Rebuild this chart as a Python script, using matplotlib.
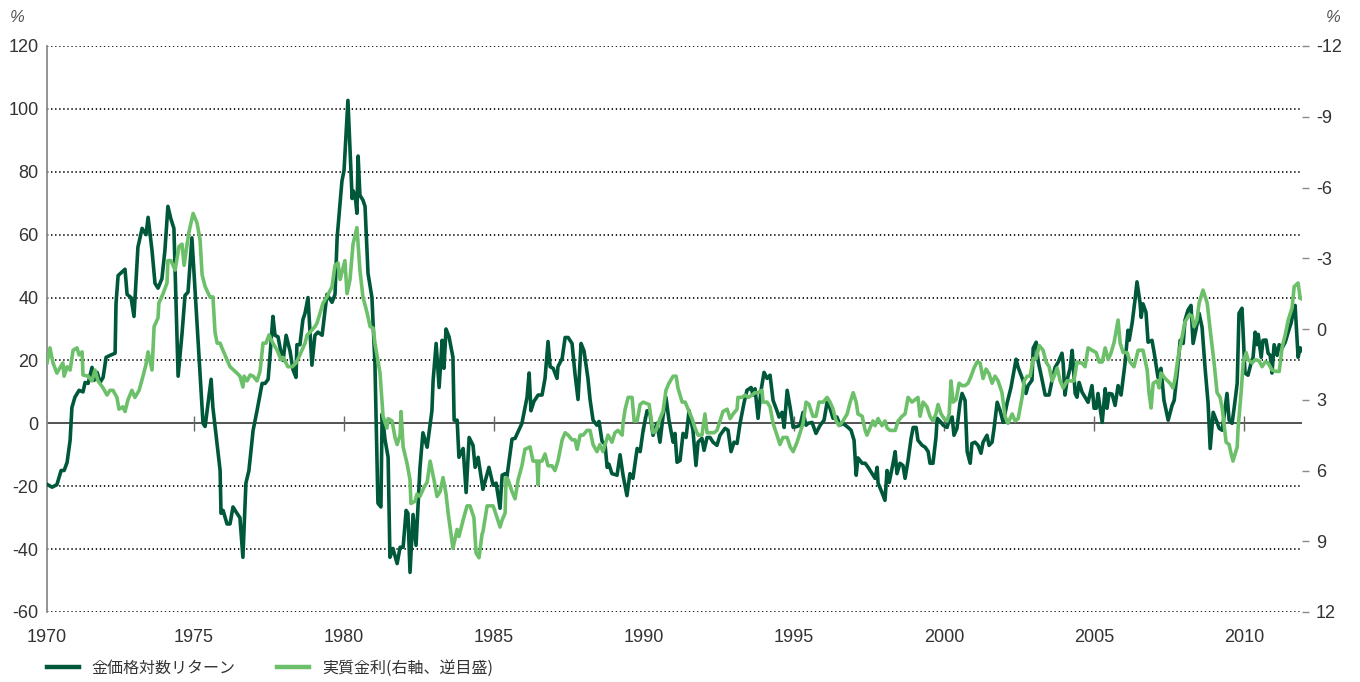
import matplotlib
matplotlib.use('Agg')
import matplotlib.pyplot as plt
from matplotlib.lines import Line2D

# === DATA ===
# gold log return, % (left axis)
gold_year = [
    1970.10, 1970.27, 1970.43, 1970.57, 1970.67, 1970.77, 1970.87, 1970.93, 1971.03, 1971.17,
    1971.30, 1971.37, 1971.47, 1971.60, 1971.67, 1971.77, 1971.87, 1971.97, 1972.07, 1972.20,
    1972.37, 1972.40, 1972.47, 1972.70, 1972.77, 1972.90, 1973.00, 1973.13, 1973.27, 1973.40,
    1973.47, 1973.60, 1973.70, 1973.80, 1973.93, 1974.03, 1974.13, 1974.23, 1974.33, 1974.47,
    1974.60, 1974.70, 1974.80, 1974.93, 1975.30, 1975.37, 1975.57, 1975.63, 1975.87, 1975.90,
    1975.97, 1976.10, 1976.20, 1976.30, 1976.43, 1976.53, 1976.63, 1976.73, 1976.83, 1976.97,
    1977.10, 1977.27, 1977.37, 1977.47, 1977.53, 1977.63, 1977.70, 1977.80, 1977.93, 1977.97,
    1978.07, 1978.20, 1978.30, 1978.40, 1978.43, 1978.53, 1978.63, 1978.70, 1978.80, 1978.93,
    1979.03, 1979.13, 1979.27, 1979.43, 1979.60, 1979.70, 1979.77, 1979.93, 1980.00, 1980.13,
    1980.27, 1980.30, 1980.37, 1980.43, 1980.47, 1980.53, 1980.63, 1980.70, 1980.80, 1980.93,
    1981.03, 1981.13, 1981.23, 1981.27, 1981.37, 1981.47, 1981.53, 1981.63, 1981.77, 1981.87,
    1981.97, 1982.07, 1982.13, 1982.20, 1982.30, 1982.40, 1982.53, 1982.63, 1982.77, 1982.93,
    1982.97, 1983.07, 1983.17, 1983.27, 1983.33, 1983.40, 1983.50, 1983.63, 1983.67, 1983.77,
    1983.83, 1983.97, 1984.07, 1984.17, 1984.30, 1984.37, 1984.47, 1984.63, 1984.73, 1984.83,
    1984.97, 1985.07, 1985.20, 1985.27, 1985.37, 1985.43, 1985.60, 1985.70, 1985.93, 1986.10,
    1986.17, 1986.23, 1986.33, 1986.47, 1986.60, 1986.70, 1986.80, 1986.87, 1986.97, 1987.10,
    1987.13, 1987.27, 1987.37, 1987.47, 1987.60, 1987.70, 1987.80, 1987.90, 1988.00, 1988.13,
    1988.20, 1988.30, 1988.43, 1988.50, 1988.60, 1988.70, 1988.77, 1988.83, 1988.93, 1989.10,
    1989.20, 1989.30, 1989.43, 1989.53, 1989.63, 1989.77, 1989.87, 1989.97, 1990.10, 1990.20,
    1990.30, 1990.43, 1990.53, 1990.63, 1990.73, 1990.83, 1990.97, 1991.03, 1991.10, 1991.20,
    1991.30, 1991.40, 1991.50, 1991.63, 1991.73, 1991.80, 1991.93, 1992.00, 1992.10, 1992.20,
    1992.30, 1992.43, 1992.53, 1992.70, 1992.80, 1992.90, 1993.00, 1993.10, 1993.20, 1993.33,
    1993.43, 1993.57, 1993.63, 1993.70, 1993.80, 1993.90, 1994.00, 1994.10, 1994.20, 1994.30,
    1994.43, 1994.50, 1994.60, 1994.67, 1994.77, 1994.87, 1994.97, 1995.10, 1995.20, 1995.30,
    1995.40, 1995.47, 1995.60, 1995.73, 1995.87, 1996.00, 1996.10, 1996.20, 1996.30, 1996.43,
    1996.53, 1996.63, 1996.80, 1996.90, 1997.00, 1997.07, 1997.13, 1997.27, 1997.37, 1997.47,
    1997.60, 1997.70, 1997.77, 1997.80, 1997.93, 1998.03, 1998.10, 1998.17, 1998.30, 1998.37,
    1998.43, 1998.53, 1998.63, 1998.70, 1998.80, 1998.90, 1998.97, 1999.07, 1999.13, 1999.27,
    1999.37, 1999.47, 1999.53, 1999.63, 1999.73, 1999.77, 1999.90, 1999.97, 2000.10, 2000.17,
    2000.27, 2000.33, 2000.43, 2000.53, 2000.60, 2000.70, 2000.77, 2000.87, 2000.93, 2001.03,
    2001.13, 2001.23, 2001.30, 2001.43, 2001.50, 2001.60, 2001.67, 2001.77, 2001.87, 2001.97,
    2002.10, 2002.23, 2002.40, 2002.47, 2002.63, 2002.73, 2002.80, 2002.93, 2002.97, 2003.07,
    2003.13, 2003.27, 2003.37, 2003.50, 2003.60, 2003.70, 2003.80, 2003.93, 2003.97, 2004.03,
    2004.10, 2004.20, 2004.27, 2004.37, 2004.43, 2004.50, 2004.60, 2004.70, 2004.80, 2004.93,
    2005.00, 2005.07, 2005.13, 2005.27, 2005.37, 2005.43, 2005.50, 2005.60, 2005.70, 2005.80,
    2005.90, 2006.03, 2006.13, 2006.17, 2006.27, 2006.37, 2006.43, 2006.53, 2006.57, 2006.63,
    2006.73, 2006.80, 2006.93, 2007.00, 2007.13, 2007.23, 2007.33, 2007.47, 2007.60, 2007.67,
    2007.77, 2007.87, 2007.97, 2008.03, 2008.13, 2008.23, 2008.30, 2008.40, 2008.50, 2008.60,
    2008.70, 2008.80, 2008.87, 2008.97, 2009.10, 2009.17, 2009.27, 2009.43, 2009.50, 2009.60,
    2009.67, 2009.77, 2009.83, 2009.93, 2010.03, 2010.13, 2010.23, 2010.30, 2010.37, 2010.43,
    2010.47, 2010.57, 2010.63, 2010.73, 2010.80, 2010.87, 2010.93, 2011.00, 2011.10, 2011.17,
    2011.27, 2011.37, 2011.47, 2011.57, 2011.63, 2011.70, 2011.80, 2011.87, 2011.93,
]
gold_ret = [
    -19.4, -20.3, -19.5, -15.0, -15.0, -12.4, -5.4, 5.0, 8.3, 10.5,
    10.0, 13.0, 12.7, 17.8, 13.7, 16.2, 13.0, 14.6, 21.0, 21.6,
    22.3, 38.0, 47.0, 49.0, 41.0, 40.0, 34.0, 56.0, 62.0, 60.0,
    65.5, 55.0, 44.5, 43.0, 46.0, 55.0, 69.0, 65.0, 62.0, 15.0,
    28.5, 40.7, 41.7, 59.0, 0.0, -1.0, 14.0, 5.0, -15.0, -28.6,
    -27.7, -32.0, -32.0, -26.6, -28.6, -30.0, -42.6, -19.0, -15.0, -2.2,
    4.0, 12.7, 12.7, 14.0, 21.0, 34.0, 28.0, 27.5, 21.0, 20.0,
    28.0, 23.0, 17.0, 14.6, 25.0, 25.0, 33.0, 35.0, 40.0, 18.5,
    28.0, 29.0, 28.0, 41.0, 38.5, 41.0, 59.0, 77.0, 80.4, 102.7,
    71.5, 74.0, 72.5, 66.8, 85.0, 72.5, 71.0, 69.0, 47.7, 40.0,
    19.0, -25.4, -26.6, 3.0, -5.4, -10.8, -42.6, -39.8, -44.6, -39.4,
    -39.4, -27.7, -28.6, -47.4, -29.0, -38.8, -14.3, -3.0, -7.6, 4.0,
    13.7, 25.4, 11.4, 26.4, 17.5, 30.0, 27.5, 21.0, 1.0, 1.0,
    -10.8, -8.0, -22.0, -4.5, -7.0, -14.0, -10.8, -21.0, -17.5, -14.0,
    -19.7, -19.0, -27.0, -16.5, -16.0, -17.0, -5.0, -4.8, 0.0, 8.3,
    16.0, 4.0, 7.0, 9.0, 9.0, 14.3, 26.0, 18.0, 17.5, 14.3,
    18.0, 20.6, 27.3, 27.3, 25.4, 15.6, 7.6, 25.4, 23.0, 14.3,
    7.6, 1.0, -0.6, 0.6, -5.7, -6.7, -14.0, -13.0, -16.0, -16.5,
    -10.0, -16.5, -23.0, -16.0, -17.5, -8.0, -9.0, -2.2, 4.0, 3.0,
    -3.8, 0.0, -6.0, 2.0, 8.3, 1.0, -6.0, -3.2, -12.4, -11.8,
    -3.2, -4.5, 4.0, -2.2, -13.4, -6.0, -4.8, -8.6, -4.5, -4.5,
    -6.0, -7.0, -3.8, -1.6, -2.2, -9.0, -6.0, -6.4, 0.0, 6.4,
    10.5, 11.4, 9.0, 11.0, 1.6, 10.5, 16.2, 14.3, 15.3, 7.3,
    4.0, 2.0, 3.5, -1.3, 10.5, 5.0, -1.3, -1.0, -0.6, 3.5,
    -0.6, 0.0, 0.3, -3.2, -0.6, 1.0, 6.7, 4.8, 1.6, 2.0,
    -0.6, 0.0, -1.3, -2.2, -5.4, -16.5, -11.0, -12.7, -12.7, -14.0,
    -16.0, -17.5, -14.0, -19.0, -22.0, -24.5, -15.0, -18.8, -12.7, -9.0,
    -16.0, -12.7, -13.4, -17.5, -11.8, -4.8, -1.3, -1.3, -5.4, -7.0,
    -7.6, -9.0, -12.7, -12.7, -4.5, 1.6, 0.3, -0.6, -1.3, 1.0,
    2.0, -3.8, -1.6, 6.4, 9.5, 7.3, -9.0, -12.7, -6.4, -6.0,
    -7.0, -9.5, -6.0, -3.8, -7.0, -6.0, -1.3, 6.7, 4.0, 0.3,
    6.4, 11.4, 20.4, 17.8, 13.7, 9.5, 12.0, 13.7, 23.9, 25.8,
    20.0, 13.7, 9.0, 9.0, 13.7, 17.8, 19.4, 22.3, 19.0, 9.0,
    13.7, 17.5, 23.2, 9.5, 8.3, 13.0, 9.9, 8.3, 6.7, 12.0,
    4.8, 4.8, 9.5, 0.3, 11.0, 4.8, 9.5, 9.3, 5.7, 12.0,
    9.0, 19.0, 29.6, 26.4, 32.0, 39.7, 45.0, 38.5, 33.7, 38.0,
    35.3, 25.8, 26.4, 22.6, 14.6, 17.5, 7.3, 1.0, 5.7, 7.3,
    16.0, 26.4, 25.4, 32.8, 36.0, 37.5, 25.4, 30.0, 35.0, 30.5,
    17.5, 6.4, -8.0, 3.5, 0.3, -1.6, -2.2, 9.5, 1.0, 0.0,
    5.0, 12.7, 35.0, 36.6, 16.0, 15.3, 19.0, 21.0, 29.0, 25.0,
    28.3, 21.0, 26.4, 26.5, 22.3, 21.6, 16.0, 25.0, 21.6, 25.0,
    24.0, 25.8, 29.0, 32.0, 35.0, 37.5, 21.0, 24.0, 23.2,
]

# real interest rate, % (right axis, inverted)
rate_year = [
    1970.10, 1970.20, 1970.30, 1970.43, 1970.53, 1970.63, 1970.67, 1970.77, 1970.87, 1970.97,
    1971.10, 1971.17, 1971.27, 1971.30, 1971.47, 1971.60, 1971.70, 1971.80, 1971.97, 1972.10,
    1972.20, 1972.30, 1972.43, 1972.50, 1972.63, 1972.70, 1972.80, 1972.93, 1973.03, 1973.17,
    1973.30, 1973.40, 1973.47, 1973.60, 1973.67, 1973.80, 1973.83, 1973.97, 1974.10, 1974.13,
    1974.23, 1974.37, 1974.50, 1974.60, 1974.67, 1974.77, 1974.83, 1974.97, 1975.10, 1975.20,
    1975.27, 1975.37, 1975.53, 1975.63, 1975.70, 1975.77, 1975.87, 1975.93, 1976.03, 1976.20,
    1976.43, 1976.53, 1976.63, 1976.67, 1976.77, 1976.87, 1976.97, 1977.10, 1977.20, 1977.30,
    1977.40, 1977.50, 1977.63, 1977.77, 1977.90, 1977.97, 1978.13, 1978.27, 1978.40, 1978.53,
    1978.70, 1978.77, 1978.87, 1979.03, 1979.10, 1979.23, 1979.30, 1979.43, 1979.60, 1979.70,
    1979.80, 1979.87, 1979.97, 1980.03, 1980.10, 1980.20, 1980.30, 1980.43, 1980.53, 1980.63,
    1980.77, 1980.87, 1980.97, 1981.03, 1981.20, 1981.30, 1981.43, 1981.47, 1981.60, 1981.70,
    1981.77, 1981.87, 1981.90, 1981.97, 1982.10, 1982.20, 1982.23, 1982.37, 1982.43, 1982.53,
    1982.67, 1982.77, 1982.87, 1983.00, 1983.10, 1983.20, 1983.30, 1983.40, 1983.47, 1983.63,
    1983.77, 1983.83, 1983.97, 1984.10, 1984.20, 1984.33, 1984.40, 1984.50, 1984.60, 1984.63,
    1984.77, 1984.87, 1984.97, 1985.10, 1985.20, 1985.27, 1985.37, 1985.40, 1985.47, 1985.60,
    1985.70, 1985.80, 1985.93, 1986.03, 1986.20, 1986.30, 1986.43, 1986.47, 1986.50, 1986.60,
    1986.70, 1986.80, 1986.93, 1987.03, 1987.13, 1987.27, 1987.37, 1987.47, 1987.60, 1987.70,
    1987.77, 1987.87, 1987.97, 1988.10, 1988.20, 1988.30, 1988.43, 1988.53, 1988.63, 1988.70,
    1988.80, 1988.93, 1989.03, 1989.13, 1989.27, 1989.30, 1989.37, 1989.47, 1989.60, 1989.67,
    1989.77, 1989.87, 1989.97, 1990.17, 1990.30, 1990.40, 1990.53, 1990.63, 1990.73, 1990.83,
    1990.97, 1991.07, 1991.13, 1991.27, 1991.37, 1991.47, 1991.60, 1991.70, 1991.80, 1991.93,
    1992.03, 1992.10, 1992.20, 1992.33, 1992.43, 1992.53, 1992.63, 1992.77, 1992.87, 1992.97,
    1993.10, 1993.13, 1993.27, 1993.37, 1993.47, 1993.60, 1993.70, 1993.80, 1993.93, 1993.97,
    1994.10, 1994.20, 1994.30, 1994.43, 1994.53, 1994.63, 1994.77, 1994.87, 1994.97, 1995.10,
    1995.20, 1995.30, 1995.40, 1995.50, 1995.63, 1995.73, 1995.83, 1995.97, 1996.10, 1996.20,
    1996.30, 1996.40, 1996.50, 1996.63, 1996.77, 1996.87, 1996.97, 1997.07, 1997.13, 1997.27,
    1997.37, 1997.43, 1997.53, 1997.63, 1997.70, 1997.80, 1997.93, 1998.03, 1998.10, 1998.20,
    1998.37, 1998.47, 1998.60, 1998.70, 1998.80, 1998.93, 1999.03, 1999.13, 1999.20, 1999.30,
    1999.43, 1999.53, 1999.63, 1999.73, 1999.80, 1999.90, 2000.00, 2000.10, 2000.17, 2000.23,
    2000.30, 2000.40, 2000.50, 2000.60, 2000.70, 2000.80, 2000.90, 2001.00, 2001.10, 2001.20,
    2001.30, 2001.40, 2001.50, 2001.60, 2001.70, 2001.80, 2001.93, 2002.03, 2002.13, 2002.27,
    2002.37, 2002.47, 2002.60, 2002.67, 2002.77, 2002.87, 2002.97, 2003.07, 2003.17, 2003.30,
    2003.40, 2003.50, 2003.60, 2003.67, 2003.77, 2003.87, 2003.97, 2004.10, 2004.20, 2004.33,
    2004.43, 2004.53, 2004.60, 2004.70, 2004.80, 2004.93, 2005.07, 2005.17, 2005.27, 2005.37,
    2005.47, 2005.57, 2005.67, 2005.80, 2005.87, 2005.97, 2006.10, 2006.20, 2006.33, 2006.47,
    2006.63, 2006.77, 2006.83, 2006.90, 2006.97, 2007.10, 2007.17, 2007.23, 2007.37, 2007.53,
    2007.63, 2007.70, 2007.80, 2007.93, 2008.03, 2008.17, 2008.27, 2008.33, 2008.43, 2008.50,
    2008.63, 2008.77, 2008.87, 2009.00, 2009.10, 2009.20, 2009.27, 2009.40, 2009.50, 2009.57,
    2009.63, 2009.77, 2009.80, 2009.90, 2009.97, 2010.07, 2010.13, 2010.27, 2010.37, 2010.50,
    2010.60, 2010.70, 2010.80, 2010.93, 2011.07, 2011.17, 2011.27, 2011.37, 2011.47, 2011.60,
    2011.67, 2011.80, 2011.87, 2011.93,
]
real_rate = [
    1.44, 0.80, 1.44, 1.87, 1.65, 1.44, 2.00, 1.60, 1.74, 0.90,
    0.80, 1.10, 0.97, 1.95, 2.00, 2.20, 1.74, 2.20, 2.50, 2.80,
    2.60, 2.60, 2.90, 3.40, 3.30, 3.50, 3.00, 2.60, 2.90, 2.60,
    2.00, 1.50, 0.97, 1.74, -0.10, -0.47, -1.10, -1.50, -1.95, -2.90,
    -2.90, -2.50, -3.50, -3.60, -2.70, -3.60, -4.10, -4.90, -4.50, -3.80,
    -2.30, -1.80, -1.36, -1.36, 0.13, 0.60, 0.60, 0.80, 1.10, 1.60,
    1.87, 2.00, 2.46, 2.00, 2.20, 1.95, 2.00, 2.20, 1.80, 0.60,
    0.60, 0.25, 0.60, 0.90, 1.30, 1.20, 1.60, 1.60, 1.44, 1.10,
    0.60, 0.25, 0.13, -0.10, -0.25, -0.80, -1.10, -1.36, -1.80, -2.70,
    -2.80, -2.10, -2.60, -2.90, -1.50, -2.10, -3.60, -4.30, -2.50, -1.36,
    -0.68, -0.10, -0.04, 0.60, 1.87, 3.70, 4.20, 3.80, 3.90, 4.60,
    4.90, 4.50, 3.50, 5.00, 5.70, 6.40, 7.40, 7.30, 7.00, 7.10,
    6.70, 6.50, 5.60, 6.40, 7.10, 6.90, 6.30, 7.00, 7.80, 9.30,
    8.50, 8.80, 8.10, 7.50, 7.50, 8.00, 9.50, 9.70, 8.70, 8.60,
    7.50, 7.50, 7.50, 8.00, 8.40, 8.10, 7.80, 6.30, 6.40, 6.90,
    7.20, 6.40, 5.80, 5.10, 5.00, 5.60, 5.60, 6.60, 5.60, 5.60,
    5.30, 5.80, 5.80, 6.00, 5.60, 4.70, 4.40, 4.50, 4.70, 4.70,
    5.10, 4.50, 4.50, 4.30, 4.30, 4.90, 5.20, 4.90, 5.20, 4.90,
    4.50, 4.80, 4.40, 4.30, 4.50, 4.00, 3.40, 2.90, 2.90, 3.90,
    3.90, 3.20, 3.10, 3.20, 4.40, 4.30, 3.80, 3.50, 2.60, 2.30,
    2.00, 2.00, 2.50, 3.10, 3.10, 3.40, 3.80, 4.20, 4.50, 4.50,
    3.60, 4.40, 4.40, 4.40, 4.30, 3.90, 3.50, 3.40, 3.80, 3.60,
    3.40, 2.90, 2.90, 2.80, 2.90, 2.80, 2.70, 2.70, 2.60, 3.10,
    3.10, 3.30, 4.00, 4.50, 4.90, 4.60, 4.60, 5.00, 5.20, 4.80,
    4.40, 4.00, 3.10, 3.20, 3.70, 3.70, 3.10, 3.10, 2.90, 3.10,
    3.40, 3.90, 4.10, 3.90, 3.60, 3.10, 2.70, 3.10, 3.60, 3.70,
    4.30, 4.50, 4.20, 3.90, 4.10, 3.80, 4.10, 3.90, 4.20, 4.30,
    4.30, 3.90, 3.70, 3.60, 2.90, 3.10, 3.00, 2.90, 3.70, 3.10,
    3.30, 3.70, 3.90, 3.60, 3.20, 3.60, 3.80, 3.90, 3.60, 2.20,
    3.10, 3.00, 2.30, 2.40, 2.40, 2.30, 2.00, 1.65, 1.40, 1.44,
    2.10, 1.70, 1.90, 2.30, 2.00, 2.20, 2.70, 3.70, 4.00, 3.60,
    3.90, 3.80, 2.90, 2.20, 2.00, 2.00, 1.25, 1.25, 0.70, 0.90,
    1.40, 1.60, 2.20, 2.00, 1.65, 2.20, 2.50, 2.20, 2.20, 2.20,
    1.40, 1.44, 1.44, 1.60, 0.80, 0.90, 1.00, 1.40, 1.40, 0.80,
    1.30, 1.00, 0.55, -0.38, 0.60, 1.00, 1.00, 1.40, 1.60, 0.90,
    0.90, 1.74, 2.70, 3.35, 2.30, 2.20, 2.50, 1.87, 2.10, 2.30,
    2.50, 2.10, 1.20, 0.34, -0.30, -0.60, -0.55, -0.10, -0.38, -1.10,
    -1.65, -1.10, 0.04, 1.44, 2.70, 2.90, 3.35, 4.80, 4.90, 5.30,
    5.60, 5.00, 4.20, 2.70, 1.44, 1.00, 1.30, 1.44, 1.30, 1.35,
    1.60, 1.40, 1.44, 1.74, 1.80, 1.80, 0.76, 0.25, -0.38, -0.90,
    -1.80, -1.95, -1.30, -1.27,
]

left_ticks = list(range(-60, 121, 20))
right_ticks = list(range(-12, 13, 3))
x_ticks = [1970.1, 1975, 1980, 1985, 1990, 1995, 2000, 2005, 2010]
x_labels = ['1970', '1975', '1980', '1985', '1990', '1995', '2000', '2005', '2010']
legend_labels = ['金価格対数リターン', '実質金利(右軸、逆目盛)']

DARK = '#00583b'
LIGHT = '#6cc06a'
TEXT = '#333333'
AXIS = '#8a8a8a'

plt.rcParams['font.family'] = ['Liberation Sans', 'Noto Sans CJK JP']
plt.rcParams['axes.unicode_minus'] = False

W, H = 1360, 682
fig = plt.figure(figsize=(W / 100, H / 100), dpi=100)
ax = fig.add_axes([47 / W, 1 - 612 / H, (1302 - 47) / W, (612 - 46) / H])
ax2 = ax.twinx()

ax.set_xlim(1970.1, 2011.93)
ax.set_ylim(-60, 120)
ax2.set_ylim(12, -12)

# dotted grid, solid zero line with year ticks on it
for v in left_ticks:
    if v != 0:
        ax.axhline(v, color='#111111', lw=1.3, ls=(0, (0.75, 1.5)), zorder=1)
ax.axhline(0, color='#444444', lw=1.3, zorder=2)
ax.vlines(x_ticks[1:], -2.3, 2.3, color='#666666', lw=1.0, zorder=2)

ax.plot(gold_year, gold_ret, color=DARK, lw=2.6, zorder=3)
ax2.plot(rate_year, real_rate, color=LIGHT, lw=2.6, zorder=3)

for s in ['top', 'right', 'bottom']:
    ax.spines[s].set_visible(False)
    ax2.spines[s].set_visible(False)
ax2.spines['left'].set_visible(False)
ax.spines['left'].set_color(AXIS)
ax.spines['left'].set_linewidth(1.3)
ax2.spines['right'].set_color(AXIS)
ax2.spines['right'].set_linewidth(1.3)

ax.set_yticks(left_ticks)
ax.tick_params(axis='y', length=0, pad=6, labelsize=13, labelcolor=TEXT)
ax.set_xticks(x_ticks)
ax.set_xticklabels(x_labels)
ax.tick_params(axis='x', length=0, pad=12, labelsize=13, labelcolor=TEXT)
ax2.set_yticks(right_ticks)
ax2.tick_params(axis='y', direction='out', length=5, width=1, color=AXIS,
                pad=5, labelsize=13, labelcolor=TEXT)

fig.text(17 / W, 1 - 17 / H, '%', ha='center', va='center', fontsize=12,
         color='#555555', style='italic')
fig.text(1333 / W, 1 - 17 / H, '%', ha='center', va='center', fontsize=12,
         color='#555555', style='italic')

handles = [Line2D([], [], color=DARK, lw=3.2), Line2D([], [], color=LIGHT, lw=3.2)]
fig.legend(handles, legend_labels, loc='center left', bbox_to_anchor=(47 / W, 1 - 668 / H),
           ncol=2, frameon=False, prop={'family': 'Noto Sans CJK JP', 'size': 11.5},
           handlelength=2.0, handletextpad=0.8, columnspacing=2.6,
           borderpad=0, borderaxespad=0, labelcolor=TEXT)

fig.savefig('out.png', dpi=100)
